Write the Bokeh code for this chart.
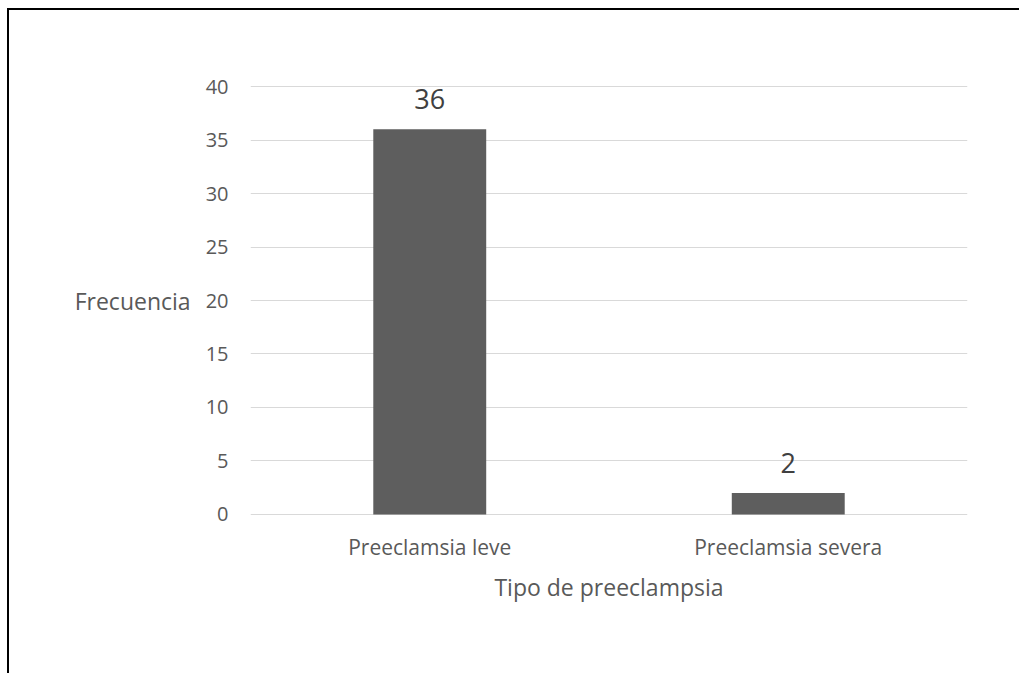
from bokeh.plotting import figure
from bokeh.models import ColumnDataSource, Range1d, FixedTicker
from bokeh.core.properties import value
from bokeh.embed import file_html
from bokeh.resources import INLINE

# Data
categories = ["Preeclamsia leve", "Preeclamsia severa"]
frequencies = [36, 2]
y_ticks = [0, 5, 10, 15, 20, 25, 30, 35, 40]

FONT = "Open Sans"
TEXT_COLOR = "#595959"
BAR_COLOR = "#5e5e5e"
GRID_COLOR = "#d9d9d9"

source = ColumnDataSource(data=dict(
    cat=categories,
    freq=frequencies,
    label=[str(v) for v in frequencies],
))

p = figure(
    x_range=categories,
    y_range=Range1d(-0.1, 40.1),
    width=1019, height=673,
    output_backend="svg",
    toolbar_location=None,
    min_border_left=250, min_border_right=52,
    min_border_top=85, min_border_bottom=158,
    background_fill_color="white",
    border_fill_color=None,
)
p.outline_line_color = None
# page frame: black rule along the top and down the left side;
# pinned to the corner so the page itself never scrolls
p.styles = {
    "position": "absolute",
    "top": "0px",
    "left": "0px",
    "background": (
        "linear-gradient(#000, #000) 7px 8px / 2px 100% no-repeat, "
        "linear-gradient(#000, #000) 7px 8px / 100% 2px no-repeat, #fff"
    ),
}

p.vbar(x="cat", top="freq", width=0.315, source=source,
       fill_color=BAR_COLOR, line_color=None)

p.text(x="cat", y="freq", text="label", source=source,
       text_align="center", text_baseline="alphabetic", y_offset=-30,
       text_font=value(FONT), text_font_size="27px", text_color="#404040")

# Y axis
p.yaxis.ticker = FixedTicker(ticks=y_ticks)
p.yaxis.axis_line_color = None
p.yaxis.major_tick_line_color = None
p.yaxis.minor_tick_line_color = None
p.yaxis.major_label_text_font = FONT
p.yaxis.major_label_text_font_size = "20px"
p.yaxis.major_label_text_color = TEXT_COLOR
p.yaxis.major_label_standoff = 16
p.yaxis.axis_label = "Frecuencia"
p.yaxis.axis_label_orientation = "horizontal"
p.yaxis.axis_label_text_font = FONT
p.yaxis.axis_label_text_font_style = "normal"
p.yaxis.axis_label_text_font_size = "23px"
p.yaxis.axis_label_text_color = TEXT_COLOR
p.yaxis.axis_label_standoff = 12

# X axis
p.xaxis.axis_line_color = None
p.xaxis.major_tick_line_color = None
p.xaxis.minor_tick_line_color = None
p.xaxis.major_label_text_font = FONT
p.xaxis.major_label_text_font_size = "21px"
p.xaxis.major_label_text_color = TEXT_COLOR
p.xaxis.major_label_standoff = 11
p.xaxis.axis_label = "Tipo de preeclampsia"
p.xaxis.axis_label_text_font = FONT
p.xaxis.axis_label_text_font_style = "normal"
p.xaxis.axis_label_text_font_size = "23px"
p.xaxis.axis_label_text_color = TEXT_COLOR
p.xaxis.axis_label_standoff = 7

# Grid
p.xgrid.grid_line_color = None
p.ygrid.grid_line_color = GRID_COLOR
p.ygrid.grid_line_width = 1

open("out.html", "w").write(file_html(p, INLINE))
